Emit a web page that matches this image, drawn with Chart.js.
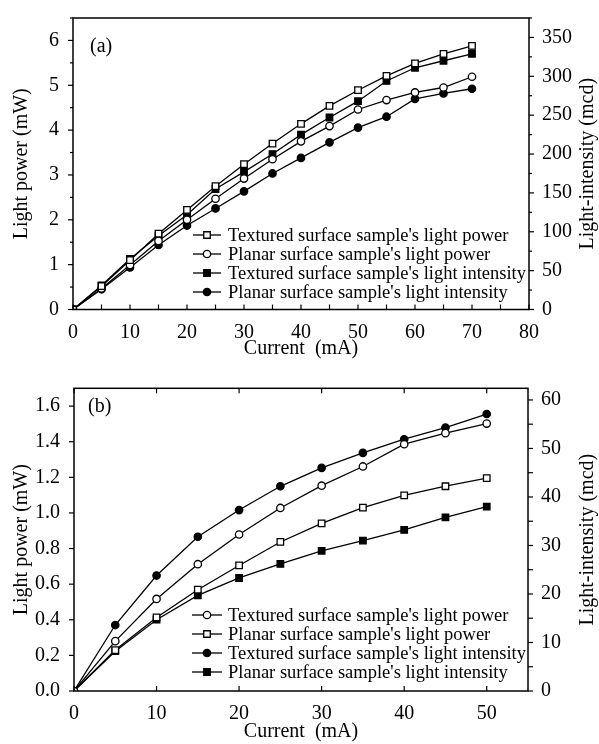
<!DOCTYPE html>
<html>
<head>
<meta charset="utf-8">
<script src="https://cdn.jsdelivr.net/npm/chart.js@4/dist/chart.umd.min.js"></script>
<style>
  html, body { margin: 0; padding: 0; background: #fff; }
  #wrapA { position: absolute; left: 0; top: 0; width: 599px; height: 365px; }
  #wrapB { position: absolute; left: 0; top: 365px; width: 599px; height: 379px; }
</style>
</head>
<body>
<div id="wrapA"><canvas id="chartA" width="599" height="365"></canvas></div>
<div id="wrapB"><canvas id="chartB" width="599" height="379"></canvas></div>
<script>
// PANEL (a) DATA
const currentA   = [0, 5, 10, 15, 20, 25, 30, 35, 40, 45, 50, 55, 60, 65, 70];
const texPowerA  = [0, 0.52, 1.10, 1.69, 2.22, 2.75, 3.24, 3.70, 4.14, 4.54, 4.89, 5.21, 5.49, 5.70, 5.88];
const plaPowerA  = [0, 0.47, 0.99, 1.53, 2.00, 2.47, 2.92, 3.35, 3.75, 4.09, 4.46, 4.67, 4.84, 4.95, 5.19];
const texIntA    = [0, 31, 65, 95, 122, 155, 177, 200, 225, 247, 268, 294, 311, 320, 329];
const plaIntA    = [0, 26, 54, 83, 108, 130, 152, 175, 195, 215, 234, 248, 271, 278, 284];

// PANEL (b) DATA
const currentB   = [0, 5, 10, 15, 20, 25, 30, 35, 40, 45, 50];
const texPowerB  = [0, 0.28, 0.517, 0.712, 0.879, 1.028, 1.153, 1.261, 1.386, 1.448, 1.502];
const plaPowerB  = [0, 0.23, 0.413, 0.569, 0.705, 0.837, 0.941, 1.030, 1.099, 1.150, 1.195];
const texIntB    = [0, 13.6, 23.8, 31.8, 37.3, 42.2, 46.0, 49.1, 51.9, 54.3, 57.1];
const plaIntB    = [0, 8.2, 14.7, 19.7, 23.3, 26.2, 28.9, 31.0, 33.2, 35.8, 38.0];

const LEGEND_LABELS = [
  "Textured surface sample's light power",
  "Planar surface sample's light power",
  "Textured surface sample's light intensity",
  "Planar surface sample's light intensity"
];

const SERIF = "'Liberation Serif', 'Times New Roman', serif";
Chart.defaults.font.family = SERIF;
Chart.defaults.color = '#000';

function pts(xs, ys) {
  return xs.map((x, i) => ({ x: x, y: ys[i] }));
}

function steps(min, max, step) {
  const out = [];
  for (let v = min; v <= max + 1e-9; v += step) out.push(+v.toFixed(6));
  return out;
}

function series(label, xs, ys, axis, shape, filled) {
  return {
    label: label,
    data: pts(xs, ys),
    yAxisID: axis,
    borderColor: '#000',
    borderWidth: 1.3,
    pointStyle: shape,
    pointRadius: shape === 'rect' ? 4.6 : 3.7,
    pointBorderWidth: 1.3,
    pointBorderColor: '#000',
    pointBackgroundColor: filled ? '#000' : '#fff',
    tension: 0
  };
}

// frame, tick marks (inside / outside), panel label, right title, legend
const decorations = {
  id: 'decorations',
  afterDatasetsDraw(chart, args, opts) {
    const { ctx, chartArea: a } = chart;
    ctx.save();
    ctx.strokeStyle = '#000';
    ctx.lineWidth = 1.5;
    ctx.strokeRect(a.left, a.top, a.right - a.left, a.bottom - a.top);

    ctx.lineWidth = 1.2;
    opts.marks.forEach(m => {
      const scale = chart.scales[m.scale];
      m.values.forEach(v => {
        const p = scale.getPixelForValue(v);
        ctx.beginPath();
        if (m.edge === 'bottom') { ctx.moveTo(p, a.bottom); ctx.lineTo(p, a.bottom - m.len); }
        if (m.edge === 'top')    { ctx.moveTo(p, a.top);    ctx.lineTo(p, a.top + m.len); }
        if (m.edge === 'left')   { ctx.moveTo(a.left, p);   ctx.lineTo(a.left - m.len, p); }
        if (m.edge === 'right')  { ctx.moveTo(a.right, p);  ctx.lineTo(a.right + m.len, p); }
        ctx.stroke();
      });
    });

    // panel label
    ctx.fillStyle = '#000';
    ctx.font = '20px ' + SERIF;
    ctx.textAlign = 'left';
    ctx.textBaseline = 'middle';
    ctx.fillText(opts.panel, a.left + opts.panelDx, a.top + opts.panelDy);

    // right axis title, reading bottom to top
    ctx.save();
    ctx.translate(opts.rightTitleX, (a.top + a.bottom) / 2);
    ctx.rotate(-Math.PI / 2);
    ctx.textAlign = 'center';
    ctx.fillText('Light-intensity (mcd)', 0, 0);
    ctx.restore();

    // legend
    const lg = opts.legend;
    ctx.font = '18.5px ' + SERIF;
    chart.data.datasets.forEach((ds, i) => {
      const y = lg.y + i * lg.row;
      ctx.strokeStyle = '#000';
      ctx.lineWidth = 1.3;
      ctx.beginPath();
      ctx.moveTo(lg.x0, y);
      ctx.lineTo(lg.x1, y);
      ctx.stroke();
      ctx.fillStyle = ds.pointBackgroundColor;
      Chart.helpers.drawPoint(ctx, {
        pointStyle: ds.pointStyle,
        radius: ds.pointRadius,
        borderWidth: ds.pointBorderWidth,
        rotation: 0
      }, (lg.x0 + lg.x1) / 2, y);
      ctx.fillStyle = '#000';
      ctx.fillText(ds.label, lg.tx, y + 1);
    });
    ctx.restore();
  }
};

function axisX(max, height, titlePad) {
  return {
    type: 'linear', min: 0, max: max,
    grid: { display: false }, border: { display: false },
    ticks: { stepSize: 10, padding: 3, font: { size: 20 }, includeBounds: false },
    title: { display: true, text: 'Current  (mA)', font: { size: 20 }, padding: { top: 0, bottom: titlePad } },
    afterFit: s => { s.height = height; }
  };
}

function axisY(pos, max, step, width, fmt, withTitle) {
  return {
    type: 'linear', position: pos, min: 0, max: max,
    grid: { display: false }, border: { display: false },
    ticks: { stepSize: step, padding: pos === 'left' ? 6 : 5, font: { size: 20 }, includeBounds: false, callback: fmt },
    title: { display: withTitle, text: 'Light power (mW)', font: { size: 20 }, padding: { top: 10, bottom: 0 } },
    afterFit: s => { s.width = width; }
  };
}

// CHART (a)
new Chart(document.getElementById('chartA').getContext('2d'), {
  type: 'line',
  data: {
    datasets: [
      series(LEGEND_LABELS[0], currentA, texPowerA, 'y', 'rect', false),
      series(LEGEND_LABELS[1], currentA, plaPowerA, 'y', 'circle', false),
      series(LEGEND_LABELS[2], currentA, texIntA, 'y2', 'rect', true),
      series(LEGEND_LABELS[3], currentA, plaIntA, 'y2', 'circle', true)
    ]
  },
  plugins: [decorations],
  options: {
    responsive: false,
    animation: false,
    layout: { padding: { top: 7.5, left: 0, right: 0, bottom: 0 } },
    scales: {
      x: axisX(80, 55.5, 4),
      y: axisY('left', 6.5, 1, 73, v => v.toString(), true),
      y2: axisY('right', 375, 50, 70, v => v.toString(), false)
    },
    plugins: {
      legend: { display: false },
      tooltip: { enabled: false },
      decorations: {
        panel: '(a)', panelDx: 17, panelDy: 29, rightTitleX: 588,
        legend: { x0: 193, x1: 221, tx: 228, y: 235, row: 19 },
        marks: [
          { scale: 'x', edge: 'bottom', len: 5, values: steps(0, 80, 5) },
          { scale: 'y', edge: 'left', len: 5, values: steps(0, 6, 1) },
          { scale: 'y', edge: 'left', len: 3, values: steps(0.5, 6.5, 1) },
          { scale: 'y2', edge: 'right', len: 5, values: steps(0, 350, 50) },
          { scale: 'y2', edge: 'right', len: 3, values: steps(25, 375, 50) }
        ]
      }
    }
  }
});

// CHART (b)
new Chart(document.getElementById('chartB').getContext('2d'), {
  type: 'line',
  data: {
    datasets: [
      series(LEGEND_LABELS[0], currentB, texPowerB, 'y', 'circle', false),
      series(LEGEND_LABELS[1], currentB, plaPowerB, 'y', 'rect', false),
      series(LEGEND_LABELS[2], currentB, texIntB, 'y2', 'circle', true),
      series(LEGEND_LABELS[3], currentB, plaIntB, 'y2', 'rect', true)
    ]
  },
  plugins: [decorations],
  options: {
    responsive: false,
    animation: false,
    layout: { padding: { top: 23.3, left: 0, right: 0, bottom: 0 } },
    scales: {
      x: axisX(55, 53, 0),
      y: axisY('left', 1.7, 0.2, 74, v => v.toFixed(1), true),
      y2: axisY('right', 62.4, 5, 71, v => v.toString(), false)
    },
    plugins: {
      legend: { display: false },
      tooltip: { enabled: false },
      decorations: {
        panel: '(b)', panelDx: 14, panelDy: 18.4, rightTitleX: 588,
        legend: { x0: 192, x1: 222, tx: 228, y: 250, row: 19 },
        marks: [
          { scale: 'x', edge: 'bottom', len: 5, values: steps(0, 50, 10) },
          { scale: 'x', edge: 'top', len: 5, values: steps(0, 50, 10) },
          { scale: 'y', edge: 'left', len: 5, values: steps(0, 1.6, 0.2) },
          { scale: 'y2', edge: 'right', len: 5, values: steps(0, 60, 5) }
        ]
      }
    }
  }
});
</script>
</body>
</html>
